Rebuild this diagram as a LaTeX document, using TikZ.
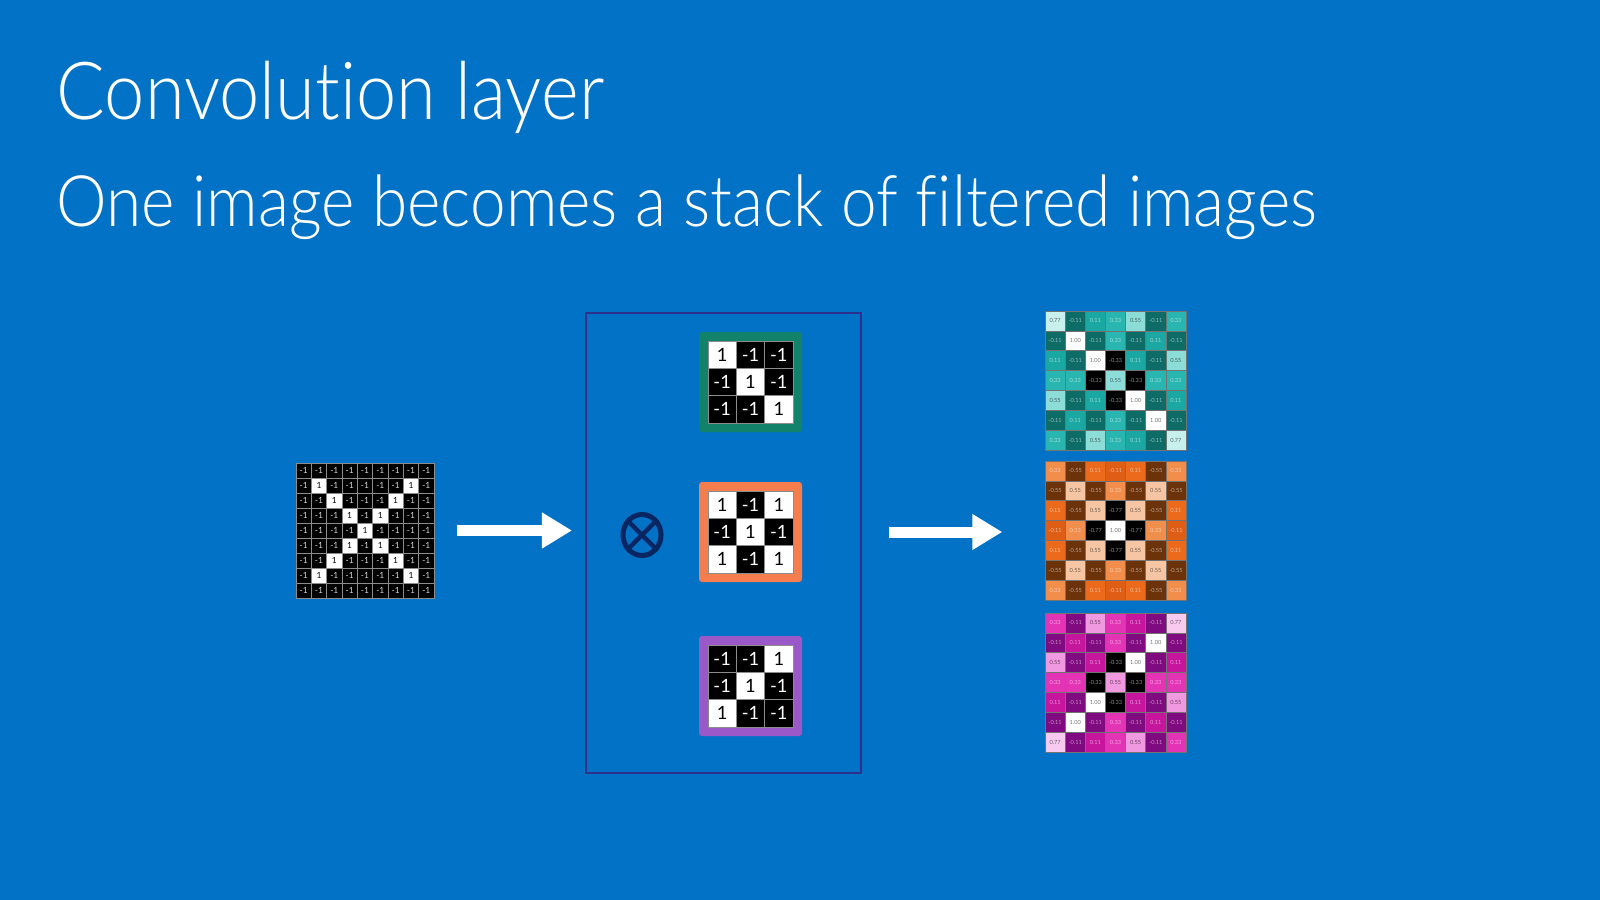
\documentclass[tikz,border=0pt]{standalone}
\usepackage{fontspec}
\IfFontExistsTF{Lato Light}{\setmainfont{Lato Light}[FakeStretch=0.9,Ligatures=NoCommon]}{\setmainfont{Lato}[FakeStretch=0.88,Ligatures=NoCommon]}
\newfontfamily\cellfont{Lato}
\usetikzlibrary{arrows.meta,fit,shapes.geometric}

% slide and frame colours
\definecolor{slide}{RGB}{2,114,198}
\definecolor{bankline}{RGB}{45,48,140}
\definecolor{opnavy}{RGB}{8,38,98}
\definecolor{kgreen}{RGB}{18,130,106}
\definecolor{korange}{RGB}{245,125,78}
\definecolor{kpurple}{RGB}{155,88,200}
\definecolor{gridgray}{RGB}{140,140,140}
% teal feature map
\definecolor{Tc}{RGB}{0,0,0}
\definecolor{Td}{RGB}{14,108,102}
\definecolor{Te}{RGB}{28,168,162}
\definecolor{Tf}{RGB}{42,182,176}
\definecolor{Tg}{RGB}{140,220,215}
\definecolor{Th}{RGB}{200,240,237}
\definecolor{Ti}{RGB}{255,255,255}
% orange feature map
\definecolor{Oa}{RGB}{0,0,0}
\definecolor{Ob}{RGB}{108,50,10}
\definecolor{Od}{RGB}{222,94,22}
\definecolor{Oe}{RGB}{236,106,28}
\definecolor{Of}{RGB}{242,142,76}
\definecolor{Og}{RGB}{246,198,164}
\definecolor{Oi}{RGB}{255,255,255}
% magenta feature map
\definecolor{Mc}{RGB}{0,0,0}
\definecolor{Md}{RGB}{128,10,128}
\definecolor{Me}{RGB}{198,22,158}
\definecolor{Mf}{RGB}{228,52,182}
\definecolor{Mg}{RGB}{240,152,224}
\definecolor{Mh}{RGB}{248,202,240}
\definecolor{Mi}{RGB}{255,255,255}

% value codes used in the feature maps
\def\cvala{-0.77}\def\cvalb{-0.55}\def\cvalc{-0.33}\def\cvald{-0.11}
\def\cvale{0.11}\def\cvalf{0.33}\def\cvalg{0.55}\def\cvalh{0.77}\def\cvali{1.00}
\def\ctxta{white}\def\ctxtb{white}\def\ctxtc{white}\def\ctxtd{white}
\def\ctxte{white}\def\ctxtf{white}\def\ctxtg{black}\def\ctxth{black}\def\ctxti{black}

\tikzset{
  maplabel/.style={font=\cellfont\fontsize{1.6}{2}\selectfont, inner sep=0},
  kernlabel/.style={font=\cellfont\fontsize{5.2}{6}\selectfont, inner sep=0},
  pixlabel/.style={font=\cellfont\fontsize{2.4}{3}\selectfont, inner sep=0},
  bigarrow/.style={draw=white, line width=0.11cm,
    -{Triangle[length=0.3cm,width=0.34cm]}},
}

% 9x9 input image of +1/-1 pixels
\newcommand\pixelgrid[4]{% name, left, top, rows
  \node[fit={(#2,#3) (#2+138,#3+135)}, inner sep=0] (#1) {};
  \foreach \row [count=\r from 0] in {#4}{
    \foreach \v [count=\c from 0] in \row {
      \ifnum\v=1 \def\cellfill{white}\def\celltext{black}\def\celllab{1}%
      \else \def\cellfill{black}\def\celltext{white!85!black}\def\celllab{-1}\fi
      \path[fill=\cellfill, draw=gridgray, line width=0.2pt]
        (#2+\c*15.333, #3+\r*15) rectangle ++(15.333,15);
      \node[pixlabel, text=\celltext] (#1-\r-\c) at (#2+\c*15.333+7.67, #3+\r*15+7.5) {\celllab};
    }
  }
}

% 3x3 filter in a coloured frame
\newcommand\kernel[5]{% name, left, top, frame colour, rows
  \node[fill=#4, rounded corners=0.03cm, inner sep=0, fit={(#2,#3) (#2+103,#3+100)}] (#1) {};
  \foreach \row [count=\r from 0] in {#5}{
    \foreach \v [count=\c from 0] in \row {
      \ifnum\v=1 \def\cellfill{white}\def\celltext{black}\def\celllab{1}%
      \else \def\cellfill{black}\def\celltext{white}\def\celllab{-1}\fi
      \path[fill=\cellfill, draw=gridgray, line width=0.25pt]
        (#2+9+\c*28.333, #3+9+\r*27.333) rectangle ++(28.333,27.333);
      \node[kernlabel, text=\celltext] (#1-\r-\c) at (#2+9+\c*28.333+14.17, #3+9+\r*27.333+13.67) {\celllab};
    }
  }
}

% 7x7 filtered image
\newcommand\featuremap[5]{% name, left, top, palette, rows
  \node[fit={(#2,#3) (#2+141,#3+139)}, inner sep=0] (#1) {};
  \foreach \row [count=\r from 0] in {#5}{
    \foreach \v [count=\c from 0] in \row {
      \edef\cellcol{#4\v}%
      \edef\labcol{\csname ctxt\v\endcsname!55!#4\v}%
      \path[fill=\cellcol, draw=black!55, line width=0.15pt]
        (#2+\c*20.143, #3+\r*19.857) rectangle ++(20.143,19.857);
      \node[maplabel, text=\labcol] (#1-\r-\c) at (#2+\c*20.143+10.07, #3+\r*19.857+9.93) {\csname cval\v\endcsname};
    }
  }
}

\begin{document}
\begin{tikzpicture}[x=0.01cm, y=-0.01cm]
  \useasboundingbox (0,0) rectangle (1600,900);
  \fill[slide] (0,0) rectangle (1600,900);

  % headings
  \node[anchor=base west, inner sep=0, text=white, font=\fontsize{22.8}{27}\selectfont]
    (title) at (56,119) {Convolution layer};
  \node[anchor=base west, inner sep=0, text=white, font=\fontsize{20.2}{24}\selectfont]
    (subtitle) at (56,226) {One image becomes a stack of filtered images};

  % input image: an X drawn with +1 pixels
  \pixelgrid{input}{296}{463}{
    {-1,-1,-1,-1,-1,-1,-1,-1,-1},
    {-1,1,-1,-1,-1,-1,-1,1,-1},
    {-1,-1,1,-1,-1,-1,1,-1,-1},
    {-1,-1,-1,1,-1,1,-1,-1,-1},
    {-1,-1,-1,-1,1,-1,-1,-1,-1},
    {-1,-1,-1,1,-1,1,-1,-1,-1},
    {-1,-1,1,-1,-1,-1,1,-1,-1},
    {-1,1,-1,-1,-1,-1,-1,1,-1},
    {-1,-1,-1,-1,-1,-1,-1,-1,-1}}

  % filter bank
  \node[draw=bankline, line width=0.02cm, inner sep=0, fit={(586,313) (861,773)}] (bank) {};
  \node[ellipse, draw=opnavy, line width=0.05cm, minimum width=0.38cm, minimum height=0.41cm,
    inner sep=0] (op) at (642,535) {};
  \draw[opnavy, line width=0.045cm] (op.45) -- (op.225) (op.135) -- (op.315);

  \kernel{k1}{699}{332}{kgreen}{{1,-1,-1},{-1,1,-1},{-1,-1,1}}
  \kernel{k2}{699}{482}{korange}{{1,-1,1},{-1,1,-1},{1,-1,1}}
  \kernel{k3}{699}{636}{kpurple}{{-1,-1,1},{-1,1,-1},{1,-1,-1}}

  % filtered images
  \featuremap{map1}{1045}{311}{T}{
    {h,d,e,f,g,d,f},{d,i,d,f,d,e,d},{e,d,i,c,e,d,g},{f,f,c,g,c,f,f},
    {g,d,e,c,i,d,e},{d,e,d,f,d,i,d},{f,d,g,f,e,d,h}}
  \featuremap{map2}{1045}{461}{O}{
    {f,b,e,d,e,b,f},{b,g,b,f,b,g,b},{e,b,g,a,g,b,e},{d,f,a,i,a,f,d},
    {e,b,g,a,g,b,e},{b,g,b,f,b,g,b},{f,b,e,d,e,b,f}}
  \featuremap{map3}{1045}{613}{M}{
    {f,d,g,f,e,d,h},{d,e,d,f,d,i,d},{g,d,e,c,i,d,e},{f,f,c,g,c,f,f},
    {e,d,i,c,e,d,g},{d,i,d,f,d,e,d},{h,d,e,f,g,d,f}}

  % arrows
  \draw[bigarrow, shorten <=0.22cm, shorten >=0.13cm] (input.east) -- (input.east -| bank.west);
  \draw[bigarrow, shorten <=0.27cm, shorten >=0.42cm] (bank.east |- k2.center) -- (map2.west |- k2.center);
\end{tikzpicture}
\end{document}
